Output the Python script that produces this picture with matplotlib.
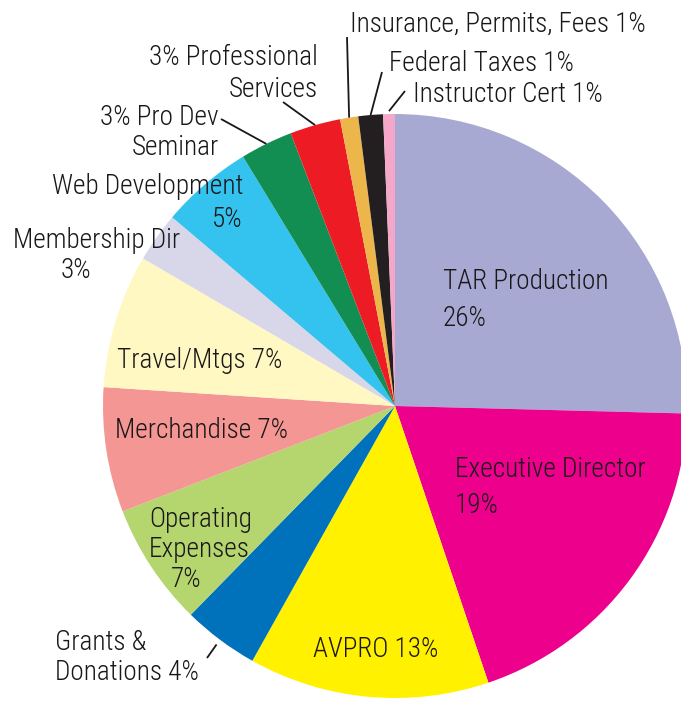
import matplotlib.pyplot as plt
import numpy as np

# budget shares, clockwise from 12 o'clock
categories = ['TAR Production', 'Executive Director', 'AVPRO', 'Grants & Donations',
              'Operating Expenses', 'Merchandise', 'Travel/Mtgs', 'Membership Dir',
              'Web Development', 'Pro Dev Seminar', 'Professional Services',
              'Insurance, Permits, Fees', 'Federal Taxes', 'Instructor Cert']
shares = [25.4, 19.4, 13.3, 4.2, 6.8, 6.9, 7.4, 2.75, 5.1, 2.9, 2.8, 1.0, 1.36, 0.65]
pct_labels = ['26%', '19%', '13%', '4%', '7%', '7%', '7%', '3%', '5%', '3%', '3%', '1%', '1%', '1%']
colors = ['#A8A9D3', '#EC008C', '#FFF100', '#0072BB', '#B5D56F', '#F49693', '#FFF8C2',
          '#D8D7EA', '#33C3EE', '#138E52', '#ED1C24', '#EDB64B', '#231F20', '#F4A7C9']

W, H = 681, 703
plt.rcParams['font.family'] = ['Roboto Condensed', 'Archivo Narrow', 'DejaVu Sans']
plt.rcParams['font.weight'] = 300
TXT = '#1A1718'
FS = 19.6

fig = plt.figure(figsize=(W / 100, H / 100), dpi=100)
ax = fig.add_axes([0, 0, 1, 1])
cx, cy, R = 395, H - 406, 292
wedges, _ = ax.pie(shares, colors=colors, startangle=90, counterclock=False,
                   center=(cx, cy), radius=R, wedgeprops=dict(linewidth=0))
ax.set_xlim(0, W)
ax.set_ylim(0, H)
ax.set_aspect('equal')
ax.axis('off')


def txt(x, y, s, ha='left'):
    # x, y in picture pixels (y from top, baseline)
    ax.text(x, H - y, s, ha=ha, va='baseline', fontsize=FS, color=TXT)


def leader(i, x, y, frac=1.0):
    w = wedges[i]
    a = np.deg2rad((w.theta1 + w.theta2) / 2)
    ax.plot([cx + R * frac * np.cos(a), x], [cy + R * frac * np.sin(a), H - y],
            color=TXT, lw=1.3, solid_capstyle='butt')


# inside labels
txt(443, 289, categories[0])
txt(443, 326, pct_labels[0])
txt(455, 477, categories[1])
txt(455, 513, pct_labels[1])
txt(313, 657, f'{categories[2]} {pct_labels[2]}')
txt(149, 527, 'Operating')
txt(149, 557, 'Expenses')
txt(186, 587, pct_labels[4], ha='center')
txt(115, 438, f'{categories[5]} {pct_labels[5]}')
txt(117, 368, f'{categories[6]} {pct_labels[6]}')
txt(13, 248, categories[7])
txt(76, 278, pct_labels[7], ha='center')
txt(243, 194, categories[8], ha='right')
txt(243, 227, pct_labels[8], ha='right')

# outside labels
txt(55, 650, 'Grants &')
txt(55, 680, f'Donations {pct_labels[3]}')
leader(3, 207, 658, 1.02)
txt(219, 125, f'{pct_labels[9]} Pro Dev', ha='right')
txt(219, 155, 'Seminar', ha='right')
leader(9, 221, 119, 1.0)
txt(318, 65, f'{pct_labels[10]} Professional', ha='right')
txt(318, 97, 'Services', ha='right')
leader(10, 283, 102, 1.0)
txt(350, 32, f'{categories[11]} {pct_labels[11]}')
leader(11, 347, 37, 1.0)
txt(389, 71, f'{categories[12]} {pct_labels[12]}')
leader(12, 382, 72, 1.0)
txt(413, 102, f'{categories[13]} {pct_labels[13]}')
leader(13, 405, 91, 1.01)

fig.savefig('out.png', dpi=100)
